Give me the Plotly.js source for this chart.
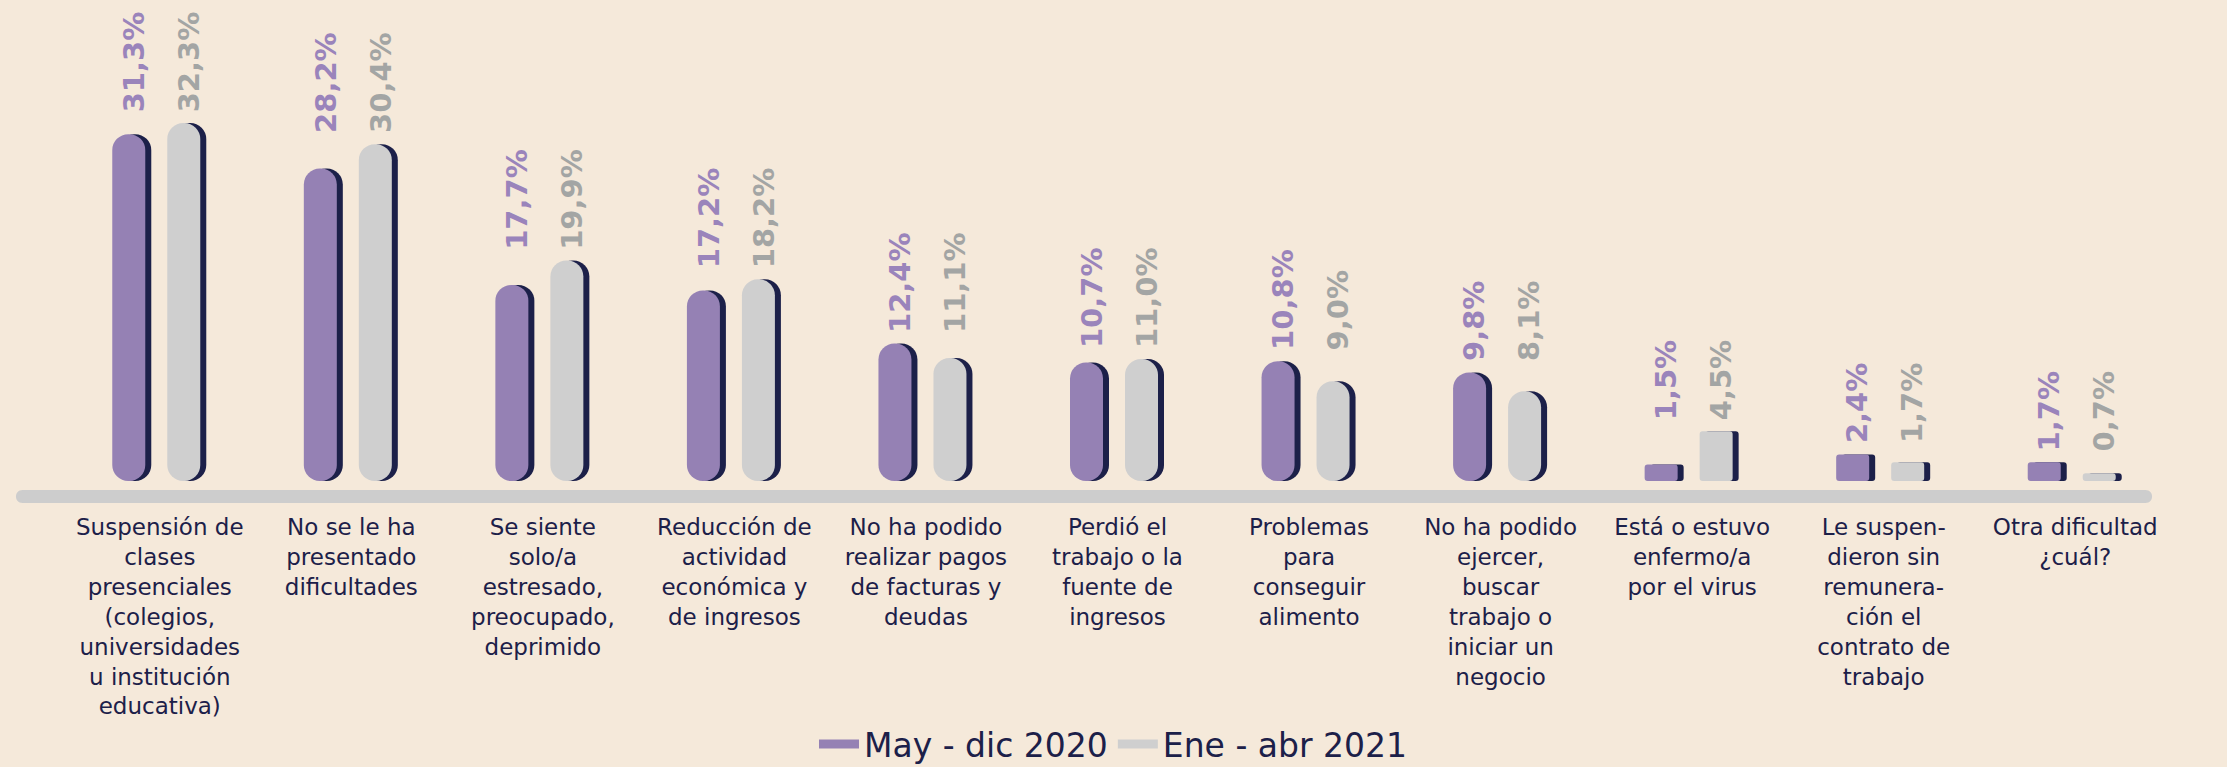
<!DOCTYPE html>
<html>
<head>
<meta charset="utf-8">
<script src="https://cdn.plot.ly/plotly-3.0.1.min.js"></script>
<style>
  html, body { margin: 0; padding: 0; background: #f5e9da; }
  #chart { width: 2227px; height: 767px; }
</style>
</head>
<body>
<div id="chart"></div>
<script>
// ---- data ----
const categories = [
  'Suspensión de<br>clases<br>presenciales<br>(colegios,<br>universidades<br>u institución<br>educativa)',
  'No se le ha<br>presentado<br>dificultades',
  'Se siente<br>solo/a<br>estresado,<br>preocupado,<br>deprimido',
  'Reducción de<br>actividad<br>económica y<br>de ingresos',
  'No ha podido<br>realizar pagos<br>de facturas y<br>deudas',
  'Perdió el<br>trabajo o la<br>fuente de<br>ingresos',
  'Problemas<br>para<br>conseguir<br>alimento',
  'No ha podido<br>ejercer,<br>buscar<br>trabajo o<br>iniciar un<br>negocio',
  'Está o estuvo<br>enfermo/a<br>por el virus',
  'Le suspen-<br>dieron sin<br>remunera-<br>ción el<br>contrato de<br>trabajo',
  'Otra dificultad<br>¿cuál?'
];
const may2020 = [31.3, 28.2, 17.7, 17.2, 12.4, 10.7, 10.8, 9.8, 1.5, 2.4, 1.7];
const ene2021 = [32.3, 30.4, 19.9, 18.2, 11.1, 11.0, 9.0, 8.1, 4.5, 1.7, 0.7];
const seriesNames = ['May - dic 2020', 'Ene - abr 2021'];

// ---- style ----
const BG = '#f5e9da';
const PURPLE = '#9581b4';
const GRAY = '#cfcfcf';
const NAVY = '#1c2049';
const PURPLE_TXT = '#9a84bb';
const GRAY_TXT = '#a3a5a4';
const FONT = 'DejaVu Sans, Noto Sans, sans-serif';

const W_PX = 2227, H_PX = 767;
const M = { l: 64, r: 56, t: 0, b: 286 };
const plotW = W_PX - M.l - M.r;
const plotH = H_PX - M.t - M.b;
const YMAX = 43.41;
const pxPerCat = plotW / categories.length;
const cat = px => px / pxPerCat;

const idx = categories.map((c, i) => i);
const BAR_W = cat(33);
const SHIFT = cat(6);
const TALL_MIN = 5;

function seriesTraces(vals, color, leftPx, shadow) {
  const off = cat(leftPx) + (shadow ? SHIFT : 0);
  const c = shadow ? NAVY : color;
  const common = { type: 'bar', x: idx, width: BAR_W, offset: off, base: 0, hoverinfo: 'skip', showlegend: false };
  // tall bars: pill shaped (both ends rounded)
  const tall = Object.assign({}, common, {
    y: vals.map(v => v >= TALL_MIN ? v : null),
    marker: { color: c, line: { width: 0 }, cornerradius: '50%' }
  });
  // short bars: nearly rectangular
  const small = Object.assign({}, common, {
    y: vals.map(v => v < TALL_MIN ? v : null),
    marker: { color: c, line: { width: 0 }, cornerradius: 3 }
  });
  return [tall, small];
}

const traces = [].concat(
  seriesTraces(may2020, PURPLE, -47.5, true),
  seriesTraces(may2020, PURPLE, -47.5, false),
  seriesTraces(ene2021, GRAY, 7.5, true),
  seriesTraces(ene2021, GRAY, 7.5, false)
);

// legend entries
[[seriesNames[0], PURPLE], [seriesNames[1], GRAY]].forEach(([n, c]) => {
  traces.push({
    type: 'scatter', mode: 'lines', x: [null], y: [null], name: n,
    line: { color: c, width: 9 }, hoverinfo: 'skip', showlegend: true
  });
});

const fmt = v => v.toFixed(1).replace('.', ',') + '%';
const annotations = [];
idx.forEach(i => {
  const top = Math.max(may2020[i], ene2021[i]);
  annotations.push({
    x: i, y: top, xref: 'x', yref: 'y', text: fmt(may2020[i]), showarrow: false,
    textangle: -90, xanchor: 'center', yanchor: 'bottom', xshift: -26, yshift: 9,
    font: { family: FONT, size: 29, color: PURPLE_TXT, weight: 'bold' }
  });
  annotations.push({
    x: i, y: top, xref: 'x', yref: 'y', text: fmt(ene2021[i]), showarrow: false,
    textangle: -90, xanchor: 'center', yanchor: 'bottom', xshift: 29, yshift: 9,
    font: { family: FONT, size: 29, color: GRAY_TXT, weight: 'bold' }
  });
});

// rounded axis band (pixel path relative to plot's bottom-left corner)
const bx0 = -41.5, bx1 = 2081.5, by0 = -9, by1 = -22, k = 8.7;
const bandPath = `M${bx0},${by0} L${bx1},${by0} C${bx1 + k},${by0} ${bx1 + k},${by1} ${bx1},${by1} ` +
                 `L${bx0},${by1} C${bx0 - k},${by1} ${bx0 - k},${by0} ${bx0},${by0} Z`;

const layout = {
  width: W_PX, height: H_PX,
  paper_bgcolor: BG, plot_bgcolor: BG,
  margin: M,
  barmode: 'overlay',
  showlegend: true,
  legend: {
    orientation: 'h', xref: 'container', yref: 'container',
    x: 0.5, xanchor: 'center', y: 0.03, yanchor: 'middle',
    font: { family: FONT, size: 33, color: NAVY },
    bgcolor: 'rgba(0,0,0,0)', itemwidth: 40
  },
  xaxis: {
    type: 'linear', range: [-0.5, categories.length - 0.5],
    tickmode: 'array', tickvals: idx, ticktext: categories,
    showgrid: false, zeroline: false, showline: false, ticks: '',
    ticklabelstandoff: 30,
    tickfont: { family: FONT, size: 23, color: NAVY },
    fixedrange: true
  },
  yaxis: {
    range: [0, YMAX], visible: false, showgrid: false, zeroline: false, fixedrange: true
  },
  annotations: annotations,
  shapes: [{
    type: 'path', layer: 'below',
    xref: 'paper', xsizemode: 'pixel', xanchor: 0,
    yref: 'paper', ysizemode: 'pixel', yanchor: 0,
    path: bandPath, fillcolor: '#cdcdcd', line: { width: 0 }
  }],
  hovermode: false
};

Plotly.newPlot('chart', traces, layout, { displayModeBar: false, staticPlot: true });
</script>
</body>
</html>
